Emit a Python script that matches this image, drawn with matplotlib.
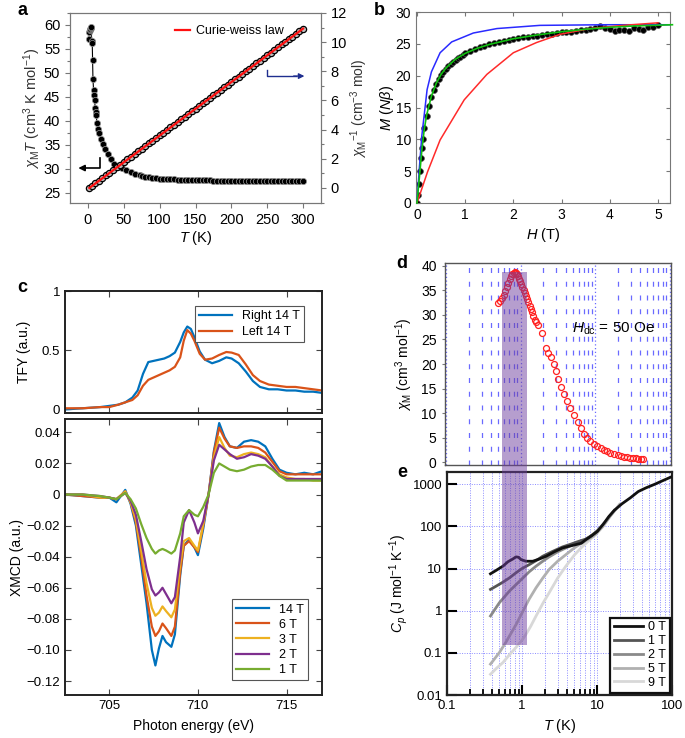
import numpy as np
import matplotlib
matplotlib.use('Agg')
import matplotlib.pyplot as plt
from matplotlib.patches import Rectangle
from matplotlib.ticker import MultipleLocator, FixedLocator, FuncFormatter, LogLocator, NullFormatter, NullLocator

plt.rcParams['font.family'] = ['Liberation Sans', 'DejaVu Sans']
plt.rcParams['mathtext.fontset'] = 'custom'
plt.rcParams['mathtext.rm'] = 'Liberation Sans'
plt.rcParams['mathtext.it'] = 'Liberation Sans:italic'
plt.rcParams['mathtext.bf'] = 'Liberation Sans:bold'
plt.rcParams['axes.unicode_minus'] = True

# ---------------- data: panel a ----------------
a_T_chiT = [1.4, 1.8, 2.5, 3.3, 4.0, 4.6, 5.2, 6.0, 6.5, 7.0, 7.9, 8.5, 9.3, 10.2, 11.0, 11.6, 12.6,
            14, 16, 18, 20.9, 24, 27.9, 32, 37, 42, 47, 53, 60, 66, 72, 76, 80, 85, 90, 95, 100, 105, 110, 115,
            120, 125, 130, 135, 140, 145, 150, 155, 160, 165, 170, 175, 180, 185, 190, 195, 200, 205, 210,
            215, 220, 225, 230, 235, 240, 245, 250, 255, 260, 265, 270, 275, 280, 285, 290, 295, 300]
a_chiT = [57.0, 58.5, 58.9, 59.1, 59.3, 59.5, 56.7, 56.3, 52.7, 48.7, 46.4, 45.5, 44.3, 42.6, 41.8, 41.2, 39.5,
          38.4, 37.4, 36.2, 35.3, 34.1, 33.2, 32.0, 31.1, 30.5, 30.1, 29.7, 29.3, 29.0, 28.7, 28.55, 28.4, 28.25, 28.1, 28.05,
          28.0, 27.95, 27.9, 27.85, 27.8, 27.78, 27.75, 27.72, 27.7, 27.68, 27.65, 27.62, 27.6, 27.6, 27.6, 27.58, 27.55,
          27.55, 27.55, 27.52, 27.5, 27.5, 27.5, 27.5, 27.5, 27.5, 27.5, 27.5, 27.5, 27.5, 27.5, 27.5, 27.5, 27.5, 27.5,
          27.5, 27.5, 27.5, 27.5, 27.5, 27.5]
a_T_inv = [2, 5, 10, 15, 20, 25, 30, 35, 40, 45, 50, 55, 60, 65, 70, 75, 80, 85, 90, 95, 100,
           105, 110, 115, 120, 125, 130, 135, 140, 145, 150, 155, 160, 165, 170, 175, 180, 185, 190, 195, 200,
           205, 210, 215, 220, 225, 230, 235, 240, 245, 250, 255, 260, 265, 270, 275, 280, 285, 290, 295, 300]
a_inv = [0.02, 0.13, 0.31, 0.49, 0.68, 0.86, 1.04, 1.23, 1.41, 1.59, 1.78, 1.96, 2.14, 2.33, 2.51, 2.69, 2.88, 3.06, 3.24, 3.43, 3.61,
         3.79, 3.97, 4.16, 4.34, 4.52, 4.71, 4.89, 5.07, 5.26, 5.44, 5.62, 5.81, 5.99, 6.17, 6.36, 6.54, 6.72, 6.90, 7.09, 7.27,
         7.45, 7.64, 7.82, 8.00, 8.19, 8.37, 8.55, 8.74, 8.92, 9.10, 9.29, 9.47, 9.65, 9.84, 10.02, 10.20, 10.38, 10.57, 10.75, 10.93]
a_cw_T = [2, 300]
a_cw = [0.0, 10.93]

# ---------------- data: panel b ----------------
b_H = [0, 0.02, 0.04, 0.06, 0.08, 0.1, 0.12, 0.15, 0.2, 0.25, 0.3, 0.35, 0.4, 0.45, 0.5, 0.55, 0.6, 0.65, 0.7, 0.75, 0.8, 0.85, 0.9, 0.95, 1.0,
       1.1, 1.2, 1.3, 1.4, 1.5, 1.6, 1.7, 1.8, 1.9, 2.0, 2.1, 2.2, 2.3, 2.4, 2.5, 2.6, 2.7, 2.8, 2.9, 3.0, 3.1, 3.2, 3.3, 3.4,
       3.5, 3.6, 3.7, 3.8, 3.9, 4.0, 4.1, 4.2, 4.3, 4.4, 4.5, 4.6, 4.7, 4.8, 4.9, 5.0]
b_M = [0, 1.2, 3.0, 5.0, 7.0, 8.6, 10.0, 11.8, 13.7, 15.3, 16.6, 17.7, 18.7, 19.5, 20.1, 20.6, 21.1, 21.5, 21.9, 22.2, 22.5, 22.8, 23.0, 23.3, 23.5,
       23.9, 24.2, 24.5, 24.7, 24.9, 25.1, 25.3, 25.5, 25.6, 25.8, 25.9, 26.0, 26.1, 26.2, 26.3, 26.4, 26.5, 26.6, 26.7, 26.8, 26.85, 26.9, 27.0, 27.1,
       27.2, 27.3, 27.5, 27.8, 27.5, 27.3, 27.0, 27.2, 27.1, 27.0, 27.5, 27.3, 27.2, 27.6, 27.7, 28.0]
b_fit_H = [0, 0.05, 0.1, 0.15, 0.2, 0.3, 0.4, 0.5, 0.6, 0.8, 1.0, 1.25, 1.5, 2.0, 2.5, 3.0, 3.5, 4.0, 4.5, 5.3]
b_fit_green = [0, 4.0, 8.2, 11.5, 13.8, 16.8, 18.8, 20.2, 21.2, 22.6, 23.5, 24.3, 24.9, 25.8, 26.4, 26.9, 27.3, 27.6, 27.8, 28.0]
b_blue_H = [0, 0.05, 0.1, 0.21, 0.3, 0.48, 0.72, 1.17, 1.66, 2.55, 3.93, 5.25]
b_blue = [0, 5.5, 10.5, 17.8, 20.6, 23.6, 25.3, 26.7, 27.4, 27.9, 28.0, 28.0]
b_red_H = [0, 0.22, 0.48, 0.98, 1.45, 2.0, 2.48, 2.97, 3.59, 4.28, 5.0]
b_red = [0, 4.9, 9.9, 16.2, 20.2, 23.6, 25.2, 26.5, 27.4, 27.9, 28.3]

# ---------------- data: panel c ----------------
c_E_tfy = [702.5, 703.5, 704.5, 705.0, 705.5, 705.9, 706.3, 706.6, 706.9, 707.2, 707.5, 707.8, 708.1, 708.4, 708.7,
           709.0, 709.2, 709.4, 709.6, 709.8, 710.1, 710.4, 710.8, 711.2, 711.6, 711.9, 712.3, 712.7, 713.1, 713.5,
           714.0, 714.5, 715.0, 715.5, 716.0, 716.5, 717.0]
c_tfy_right = [0.00, 0.01, 0.02, 0.03, 0.04, 0.06, 0.10, 0.16, 0.30, 0.40, 0.41, 0.42, 0.43, 0.45, 0.48,
               0.57, 0.65, 0.70, 0.68, 0.61, 0.49, 0.42, 0.39, 0.41, 0.44, 0.43, 0.39, 0.32, 0.24, 0.19,
               0.17, 0.17, 0.16, 0.16, 0.15, 0.15, 0.14]
c_tfy_left = [0.01, 0.01, 0.02, 0.02, 0.04, 0.06, 0.08, 0.12, 0.20, 0.25, 0.27, 0.29, 0.31, 0.33, 0.36,
              0.44, 0.58, 0.67, 0.64, 0.58, 0.47, 0.42, 0.43, 0.46, 0.485, 0.48, 0.46, 0.38, 0.29, 0.24,
              0.21, 0.20, 0.19, 0.19, 0.18, 0.17, 0.16]
c_tfy_labels = ['Right 14 T', 'Left 14 T']

c_E = [702.5, 703.5, 704.5, 705.0, 705.4, 705.9, 706.2, 706.5, 706.8, 707.1, 707.4, 707.6, 707.8, 708.0, 708.2,
       708.5, 708.7, 709.0, 709.2, 709.5, 709.8, 710.0, 710.3, 710.6, 710.9, 711.2, 711.5, 711.8, 712.2, 712.6,
       713.0, 713.4, 713.8, 714.2, 714.6, 715.0, 715.5, 716.0, 716.5, 717.0]
c_x14 = [0.000, -0.001, -0.002, -0.002, -0.005, 0.003, -0.006, -0.020, -0.045, -0.070, -0.100, -0.110, -0.099, -0.091, -0.095,
         -0.098, -0.090, -0.052, -0.033, -0.029, -0.034, -0.039, -0.022, 0.000, 0.028, 0.046, 0.037, 0.031, 0.030, 0.034,
         0.035, 0.034, 0.031, 0.023, 0.016, 0.014, 0.013, 0.014, 0.013, 0.015]
c_x6 = [0.000, -0.001, -0.002, -0.002, -0.003, 0.002, -0.005, -0.018, -0.040, -0.065, -0.085, -0.091, -0.088, -0.083, -0.086,
        -0.091, -0.085, -0.050, -0.033, -0.030, -0.034, -0.037, -0.020, 0.000, 0.027, 0.043, 0.036, 0.031, 0.030, 0.031,
        0.031, 0.030, 0.027, 0.021, 0.015, 0.013, 0.013, 0.013, 0.013, 0.013]
c_x3 = [0.000, 0.000, -0.002, -0.002, -0.003, 0.002, -0.005, -0.016, -0.036, -0.057, -0.073, -0.078, -0.076, -0.072, -0.075,
        -0.079, -0.074, -0.045, -0.030, -0.028, -0.033, -0.036, -0.019, 0.000, 0.024, 0.037, 0.030, 0.025, 0.024, 0.026,
        0.027, 0.026, 0.024, 0.018, 0.013, 0.011, 0.010, 0.010, 0.009, 0.009]
c_x2 = [0.000, 0.000, -0.001, -0.002, -0.003, 0.001, -0.004, -0.013, -0.030, -0.048, -0.061, -0.065, -0.063, -0.060, -0.064,
        -0.070, -0.066, -0.040, -0.018, -0.010, -0.018, -0.025, -0.017, 0.000, 0.022, 0.032, 0.029, 0.026, 0.023, 0.024,
        0.026, 0.025, 0.023, 0.018, 0.012, 0.010, 0.010, 0.010, 0.010, 0.010]
c_x1 = [0.000, 0.000, -0.001, -0.002, -0.003, 0.001, -0.003, -0.009, -0.019, -0.028, -0.035, -0.038, -0.036, -0.035, -0.036,
        -0.038, -0.036, -0.025, -0.014, -0.010, -0.013, -0.014, -0.008, 0.000, 0.014, 0.020, 0.018, 0.016, 0.015, 0.016,
        0.018, 0.019, 0.019, 0.016, 0.012, 0.009, 0.009, 0.009, 0.009, 0.009]
c_xmcd_labels = ['14 T', '6 T', '3 T', '2 T', '1 T']

# ---------------- data: panel d ----------------
d_T = [0.50, 0.53, 0.56, 0.59, 0.62, 0.65, 0.68, 0.71, 0.74, 0.77, 0.80, 0.83, 0.86, 0.89, 0.92, 0.95, 0.98,
       1.01, 1.05, 1.09, 1.13, 1.17, 1.21, 1.26, 1.31, 1.36, 1.41, 1.47, 1.54, 1.62, 1.70,
       1.92, 2.19, 2.35, 2.55, 2.75, 2.97, 3.2, 3.45, 3.8, 4.2, 4.6, 5.2, 5.8, 6.4, 7.1, 7.8, 8.6, 9.5,
       10.7, 11.8, 13.0, 14.3, 16, 18, 20, 22, 24, 26.5, 29, 32, 35, 38, 41, 44]
d_chi = [32.4, 32.8, 33.4, 34.0, 34.9, 35.8, 36.6, 37.4, 38.0, 38.4, 38.6, 38.7, 38.6, 38.3, 37.9, 37.4, 36.9,
         36.3, 35.7, 35.0, 34.4, 33.8, 33.2, 32.6, 31.9, 31.3, 30.6, 29.8, 29.0, 28.6, 28.0,
         26.3, 23.2, 22.3, 21.5, 20.0, 18.5, 17.0, 15.4, 13.8, 12.4, 11.0, 9.6, 8.2, 6.9, 5.8, 4.9, 4.2, 3.6,
         3.2, 2.8, 2.5, 2.2, 1.9, 1.6, 1.4, 1.3, 1.1, 1.0, 0.9, 0.8, 0.75, 0.7, 0.65, 0.6]

# ---------------- data: panel e ----------------
e_labels = ['0 T', '1 T', '2 T', '5 T', '9 T']
e_T0 = [0.38, 0.45, 0.557, 0.65, 0.757, 0.83, 0.9, 0.97, 1.13, 1.39, 1.7, 2.1, 2.7, 3.46, 4.3, 5.2, 6.2, 7.1, 8.5,
        10.1, 12, 14.4, 17, 21.5, 28, 35.5, 45, 59, 78, 100]
e_C0 = [7.5, 9.0, 11.4, 14.5, 16.9, 18.9, 18.5, 16.3, 14.9, 14.9, 16.8, 19.6, 25, 30.8, 34, 36.9, 40, 48.4, 60,
        76, 110, 172, 240, 343, 480, 671, 820, 1000, 1250, 1518]
e_T1 = [0.38, 0.45, 0.557, 0.68, 0.83, 1.0, 1.25, 1.55, 1.89, 2.5, 3.46, 4.5, 5.7, 7.1, 8.5, 10.1]
e_C1 = [3.2, 3.8, 4.75, 6.0, 7.9, 10.0, 12.4, 15.5, 19.6, 25, 32.5, 38, 44.1, 50, 61, 77]
e_T2 = [0.38, 0.5, 0.68, 0.85, 1.03, 1.25, 1.54, 1.9, 2.3, 3.0, 3.85, 5.0, 6.3, 8.0, 10.0, 13, 17]
e_C2 = [0.75, 1.55, 2.92, 4.3, 6.0, 8.4, 11.4, 15, 18.9, 25, 30.8, 38, 44, 56, 78, 130, 240]
e_T5 = [0.38, 0.45, 0.5, 0.6, 0.68, 0.85, 1.03, 1.25, 1.54, 1.9, 2.3, 3.0, 3.85, 5.0, 6.3, 8.0, 9.5, 12, 15, 20]
e_C5 = [0.054, 0.08, 0.102, 0.17, 0.25, 0.5, 0.98, 1.9, 3.5, 6.0, 9.5, 15, 21.4, 31, 40.4, 52, 63.6, 100, 175, 330]
e_T9 = [0.38, 0.45, 0.557, 0.68, 0.83, 1.0, 1.13, 1.3, 1.54, 1.9, 2.3, 3.0, 3.85, 5.0, 6.3, 8.0, 9.5, 12, 15, 20]
e_C9 = [0.031, 0.042, 0.059, 0.09, 0.134, 0.2, 0.276, 0.42, 0.75, 1.5, 2.66, 6.0, 11.4, 21, 32.5, 48, 63.6, 100, 175, 330]
band_T = [0.54, 1.17]
band_chi_top = 38.8
band_cp_bottom = 0.15

# ---------------- figure ----------------
W, H = 685, 738
fig = plt.figure(figsize=(W / 100, H / 100), dpi=100)

def pos(l, r, t, b):
    return [l / W, 1 - b / H, (r - l) / W, (b - t) / H]

GRAY = '#777777'

# ---- panel a ----
axa = fig.add_axes(pos(70, 321, 13, 203))
axa2 = axa.twinx()
axa.plot(a_T_chiT, a_chiT, '-o', color='black', lw=0.8, ms=4.5, mfc='black', mec='#999999', mew=0.5, zorder=3)
axa2.plot(a_T_inv, a_inv, 'o', color='black', ms=4.5, mfc='#bbbbbb', mec='black', mew=0.9, zorder=2)
cw, = axa2.plot(a_cw_T, a_cw, '-', color='#ff1010', lw=1.6, zorder=4, label='Curie-weiss law')
axa.set_xlim(-25, 325)
axa.set_ylim(22.9, 62.5)
axa2.set_ylim(-1.03, 12.0)
axa.xaxis.set_major_locator(MultipleLocator(50))
axa.yaxis.set_major_locator(MultipleLocator(5))
axa.yaxis.set_minor_locator(MultipleLocator(2.5))
axa2.yaxis.set_major_locator(MultipleLocator(2))
axa2.yaxis.set_minor_locator(MultipleLocator(1))
for ax in (axa, axa2):
    for s in ax.spines.values():
        s.set_color(GRAY)
        s.set_linewidth(0.8)
    ax.tick_params(which='both', direction='out', color=GRAY, labelsize=10.5, width=0.8)
    ax.tick_params(which='major', length=3.5)
    ax.tick_params(which='minor', length=2)
axa.set_xlabel('$T$ (K)', fontsize=10.5, labelpad=2)
axa.set_ylabel(r'$\chi_{\rm M}T$ (cm$^3$ K mol$^{-1}$)', fontsize=10.5, labelpad=1, color='#333333')
axa2.set_ylabel(r'$\chi_{\rm M}{}^{-1}$ (cm$^{-3}$ mol)', fontsize=10, labelpad=1, color='#333333')
axa2.legend(handles=[cw], loc='center left', bbox_to_anchor=(0.395, 0.905), frameon=False,
            handlelength=1.2, handletextpad=0.45, borderpad=0, fontsize=9)
# arrows
axa.plot([0.1195, 0.1195, 0.06], [0.237, 0.184, 0.184], color='black', lw=1.2, transform=axa.transAxes, clip_on=False)
axa.annotate('', xy=(0.022, 0.184), xytext=(0.07, 0.184), xycoords='axes fraction',
             arrowprops=dict(arrowstyle='-|>', color='black', lw=1.2, mutation_scale=9))
axa.plot([0.785, 0.785, 0.9], [0.70, 0.668, 0.668], color='#1f2f8f', lw=1.0, transform=axa.transAxes)
axa.annotate('', xy=(0.945, 0.668), xytext=(0.88, 0.668), xycoords='axes fraction',
             arrowprops=dict(arrowstyle='-|>', color='#1f2f8f', lw=1.0, mutation_scale=8))

# ---- panel b ----
axb = fig.add_axes(pos(416, 670, 12, 203))
axb.plot(b_H, b_M, 'o', color='black', ms=4.2, mfc='black', mec='#555555', mew=0.5, zorder=2)
axb.plot(b_blue_H, b_blue, '-', color='#2a2aff', lw=1.1, zorder=3)
axb.plot(b_red_H, b_red, '-', color='#ff2a2a', lw=1.1, zorder=3)
axb.plot(b_fit_H, b_fit_green, '-', color='#10c010', lw=1.2, zorder=4, clip_on=False)
axb.set_xlim(-0.02, 5.25)
axb.set_ylim(0, 30)
axb.xaxis.set_major_locator(MultipleLocator(1))
axb.yaxis.set_major_locator(MultipleLocator(5))
for s in axb.spines.values():
    s.set_color(GRAY)
    s.set_linewidth(0.8)
axb.tick_params(direction='in', top=True, right=True, length=3, color=GRAY, labelsize=10)
axb.set_xlabel('$H$ (T)', fontsize=10.5, labelpad=3)
axb.set_ylabel(r'$M$ ($N\beta$)', fontsize=10.5, labelpad=0)

# ---- panel c ----
MC = ['#0072BD', '#D95319', '#EDB120', '#7E2F8E', '#77AC30']
axc1 = fig.add_axes(pos(65, 322, 291, 413))
axc1.plot(c_E_tfy, c_tfy_right, color=MC[0], lw=1.6, label=c_tfy_labels[0])
axc1.plot(c_E_tfy, c_tfy_left, color=MC[1], lw=1.6, label=c_tfy_labels[1])
axc1.set_xlim(702.5, 717)
axc1.set_ylim(-0.03, 1.0)
axc1.xaxis.set_major_locator(FixedLocator([705, 710, 715]))
axc1.yaxis.set_major_locator(FixedLocator([0, 0.5, 1]))
axc1.yaxis.set_major_formatter(FuncFormatter(lambda v, p: '0' if abs(v) < 1e-9 else ('1' if abs(v - 1) < 1e-9 else f'{v:g}')))
axc1.tick_params(labelbottom=False)
axc1.set_ylabel('TFY (a.u.)', fontsize=10, labelpad=8)
leg = axc1.legend(loc='upper right', bbox_to_anchor=(0.955, 0.93), fontsize=9, handlelength=2.6,
                  fancybox=False, framealpha=1, borderpad=0.35, labelspacing=0.3)
leg.get_frame().set_edgecolor('#555555')
leg.get_frame().set_linewidth(0.8)

axc2 = fig.add_axes(pos(65, 322, 419, 695))
for vals, col, lab in zip([c_x14, c_x6, c_x3, c_x2, c_x1], MC, c_xmcd_labels):
    axc2.plot(c_E, vals, color=col, lw=1.6, label=lab)
axc2.set_xlim(702.5, 717)
axc2.set_ylim(-0.129, 0.0486)
axc2.xaxis.set_major_locator(FixedLocator([705, 710, 715]))
axc2.yaxis.set_major_locator(MultipleLocator(0.02))
axc2.yaxis.set_major_formatter(FuncFormatter(lambda v, p: '0' if abs(v) < 1e-9 else f'{v:.2f}'.replace('-', '\u2212')))
axc2.set_ylabel('XMCD (a.u.)', fontsize=10, labelpad=2)
axc2.set_xlabel('Photon energy (eV)', fontsize=10, labelpad=5)
leg2 = axc2.legend(loc='lower right', bbox_to_anchor=(0.97, 0.03), fontsize=9, handlelength=2.6,
                   fancybox=False, framealpha=1, borderpad=0.35, labelspacing=0.25)
leg2.get_frame().set_edgecolor('#555555')
leg2.get_frame().set_linewidth(0.8)
for ax in (axc1, axc2):
    for s in ax.spines.values():
        s.set_color('#222222')
        s.set_linewidth(1.4)
    ax.tick_params(direction='in', top=True, right=True, length=4, color='#444444', labelsize=9.5, width=0.8)

# ---- panel d ----
axd = fig.add_axes(pos(445, 671, 263, 465))
axd.set_xscale('log')
axd.plot(d_T, d_chi, 'o', mfc='none', mec='#ff2020', mew=0.9, ms=4.3, zorder=3)
axd.set_xlim(0.096, 104)
axd.set_ylim(-0.6, 40.6)
axd.xaxis.set_major_locator(LogLocator(base=10, numticks=10))
axd.xaxis.set_minor_locator(LogLocator(base=10, subs=np.arange(2, 10), numticks=20))
axd.xaxis.set_major_formatter(NullFormatter())
axd.xaxis.set_minor_formatter(NullFormatter())
axd.tick_params(axis='x', which='both', length=0)
axd.grid(True, which='minor', axis='x', color='#6a6aff', lw=0.9, linestyle=(0, (4, 7)))
axd.grid(True, which='major', axis='x', color='#6a6aff', lw=0.9, linestyle=(0, (1, 2)))
axd.yaxis.set_major_locator(MultipleLocator(5))
axd.tick_params(axis='y', direction='out', length=2.5, color=GRAY, labelsize=10)
for s in axd.spines.values():
    s.set_color('#555555')
    s.set_linewidth(1.0)
axd.set_ylabel(r'$\chi_{\rm M}$ (cm$^3$ mol$^{-1}$)', fontsize=10, labelpad=4)
axd.text(4.9, 27.2, r'$H_{\rm dc}$ = 50 Oe', fontsize=11, va='center', ha='left')

# ---- panel e ----
axe = fig.add_axes(pos(447, 672, 472, 695))
axe.set_xscale('log')
axe.set_yscale('log')
ecols = ['#111111', '#555555', '#8a8a8a', '#b0b0b0', '#d8d8d8']
Ts = [e_T0, e_T1, e_T2, e_T5, e_T9]
Cs = [e_C0, e_C1, e_C2, e_C5, e_C9]
handles = []
for i in [4, 3, 2, 1, 0]:
    h, = axe.plot(Ts[i], Cs[i], '-', color=ecols[i], lw=2.0, label=e_labels[i], zorder=3 + (4 - i))
    handles.append(h)
handles = handles[::-1]
axe.set_xlim(0.1, 100)
axe.set_ylim(0.01, 1950)
axe.xaxis.set_major_locator(LogLocator(base=10, numticks=10))
axe.xaxis.set_minor_locator(LogLocator(base=10, subs=np.arange(2, 10), numticks=20))
axe.xaxis.set_minor_formatter(NullFormatter())
axe.yaxis.set_major_locator(LogLocator(base=10, numticks=10))
axe.yaxis.set_minor_locator(NullLocator())
fmt = FuncFormatter(lambda v, p: f'{v:g}')
axe.xaxis.set_major_formatter(fmt)
axe.yaxis.set_major_formatter(fmt)
axe.grid(True, which='both', axis='x', color='#8c8cff', lw=0.7, linestyle=(0, (1, 1.5)))
axe.grid(True, which='major', axis='y', color='#8c8cff', lw=0.7, linestyle=(0, (1, 1.5)))
axe.tick_params(which='major', direction='in', length=7, width=1.5, color='black', labelsize=9.5)
axe.tick_params(which='minor', direction='in', length=4.5, width=1.3, color='black')
for s in axe.spines.values():
    s.set_color('#222222')
    s.set_linewidth(1.6)
axe.set_xlabel('$T$ (K)', fontsize=10.5, labelpad=4)
axe.set_ylabel(r'$C_p$ (J mol$^{-1}$ K$^{-1}$)', fontsize=10, labelpad=2)
leg3 = axe.legend(handles=handles, loc='lower right', bbox_to_anchor=(1.0, 0.0), fontsize=9,
                  handlelength=2.3, handletextpad=0.4, fancybox=False, framealpha=1,
                  borderpad=0.3, labelspacing=0.15, borderaxespad=0.2)
leg3.get_frame().set_edgecolor('#111111')
leg3.get_frame().set_linewidth(1.6)

# ---- purple band across d and e ----
p0 = axe.transData.transform((band_T[0], band_cp_bottom))
p1 = axe.transData.transform((band_T[1], band_cp_bottom))
ptop = axd.transData.transform((band_T[0], band_chi_top))
inv = fig.transFigure.inverted()
f0 = inv.transform(p0)
f1 = inv.transform(p1)
ft = inv.transform(ptop)
fig.patches.append(Rectangle((f0[0], f0[1]), f1[0] - f0[0], ft[1] - f0[1], transform=fig.transFigure,
                             facecolor='#6f3f9f', alpha=0.5, edgecolor='none', zorder=5))

# ---- panel letters ----
for lab, x, y in [('a', 17, 2), ('b', 374, 2), ('c', 17, 279), ('d', 396, 255), ('e', 397, 464)]:
    fig.text(x / W, 1 - y / H, lab, fontsize=13, fontweight='bold', va='top', ha='left')

fig.savefig('out.png', dpi=100)
